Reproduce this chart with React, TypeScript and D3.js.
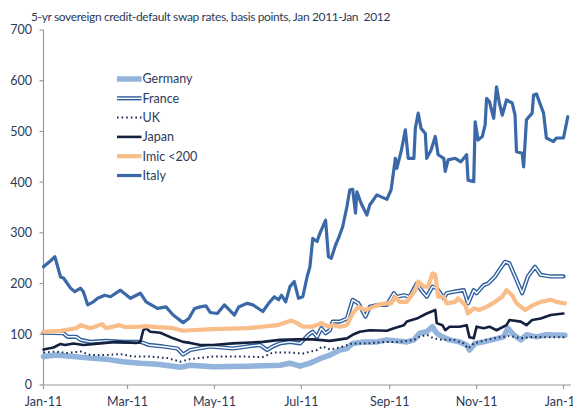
import React from "react";
import * as d3 from "d3";

// Days since 1 Jan 2011, value in basis points
const germany: [number, number][] = [
  [0, 56], [9, 59], [21, 56], [33, 53], [44, 51], [56, 46], [68, 43], [80, 41], [91, 37], [96, 35],
  [103, 39], [119, 36], [143, 37], [166, 39], [173, 43], [180, 37], [187, 43], [194, 52], [201, 59],
  [208, 69], [213, 72], [217, 82], [225, 85], [234, 85], [241, 89], [248, 87], [255, 85], [260, 89],
  [264, 102], [269, 105], [273, 115], [276, 102], [280, 95], [285, 89], [292, 85], [297, 79], [299, 69],
  [303, 82], [309, 85], [316, 90], [323, 95], [326, 112], [330, 99], [335, 89], [339, 99], [346, 95],
  [353, 99], [366, 98],
];
const france: [number, number][] = [
  [0, 103], [14, 102], [17, 95], [23, 95], [26, 89], [33, 85], [44, 87], [56, 85], [68, 85], [74, 79],
  [84, 76], [94, 72], [98, 60], [103, 69], [117, 76], [133, 72], [143, 76], [152, 79], [157, 69],
  [161, 76], [166, 82], [173, 85], [180, 82], [186, 99], [189, 105], [192, 95], [195, 112], [198, 102],
  [201, 108], [203, 125], [208, 125], [213, 131], [217, 168], [221, 161], [226, 135], [229, 154],
  [235, 158], [241, 158], [246, 181], [248, 174], [253, 177], [257, 174], [262, 200], [266, 184],
  [269, 174], [273, 194], [276, 191], [281, 171], [283, 181], [288, 184], [295, 187], [298, 161],
  [302, 187], [304, 181], [309, 197], [312, 200], [317, 214], [320, 227], [324, 243], [327, 240],
  [331, 214], [336, 181], [340, 214], [345, 233], [349, 217], [356, 214], [365, 214],
];
const uk: [number, number][] = [
  [0, 64], [9, 66], [16, 63], [26, 66], [33, 59], [44, 59], [54, 61], [63, 56], [75, 56], [87, 53],
  [96, 46], [103, 51], [108, 53], [119, 56], [143, 56], [154, 55], [161, 64], [173, 64], [182, 62],
  [192, 69], [196, 76], [201, 70], [208, 74], [217, 82], [227, 82], [241, 85], [250, 85], [260, 89],
  [264, 95], [269, 99], [274, 92], [280, 89], [288, 89], [295, 82], [298, 72], [302, 82], [311, 89],
  [320, 94], [327, 97], [335, 92], [344, 95], [353, 94], [366, 94],
];
const japan: [number, number][] = [
  [0, 70], [7, 74], [12, 81], [15, 79], [21, 82], [28, 79], [40, 82], [51, 85], [65, 83], [68, 85],
  [70, 108], [72, 112], [75, 105], [82, 103], [91, 92], [98, 85], [103, 83], [110, 79], [119, 79],
  [133, 82], [154, 85], [166, 89], [178, 90], [189, 90], [201, 87], [213, 92], [217, 99], [222, 105],
  [229, 108], [241, 107], [246, 112], [253, 118], [255, 125], [262, 131], [269, 141], [275, 148],
  [276, 122], [280, 118], [282, 108], [285, 115], [292, 115], [297, 118], [299, 94], [302, 92],
  [304, 115], [309, 112], [313, 115], [318, 108], [325, 118], [327, 128], [335, 125], [339, 118],
  [343, 128], [349, 131], [356, 138], [365, 141],
];
const imic: [number, number][] = [
  [0, 105], [12, 107], [23, 112], [26, 118], [33, 112], [41, 120], [44, 112], [53, 118], [58, 114],
  [68, 115], [72, 116], [80, 114], [91, 112], [98, 107], [103, 108], [119, 110], [143, 112], [164, 118],
  [174, 127], [178, 122], [182, 115], [189, 115], [195, 122], [200, 115], [203, 118], [208, 115],
  [213, 118], [217, 141], [221, 154], [225, 148], [229, 151], [235, 158], [240, 161], [244, 161],
  [247, 174], [250, 164], [255, 164], [261, 187], [263, 204], [267, 194], [270, 194], [273, 220],
  [275, 217], [277, 174], [281, 174], [283, 161], [289, 164], [291, 171], [296, 158], [298, 141],
  [302, 151], [306, 148], [311, 154], [317, 164], [322, 174], [325, 187], [329, 177], [332, 161],
  [338, 148], [344, 158], [349, 164], [356, 168], [360, 164], [366, 161],
];
const italy: [number, number][] = [
  [0, 233], [5, 245], [8, 253], [12, 213], [14, 211], [19, 191], [22, 184], [26, 191], [28, 184],
  [31, 158], [35, 164], [38, 171], [43, 177], [47, 174], [54, 187], [61, 171], [68, 181], [72, 164],
  [80, 151], [86, 154], [91, 138], [98, 123], [102, 131], [106, 151], [110, 154], [114, 156],
  [117, 143], [122, 141], [127, 158], [134, 138], [137, 154], [143, 161], [147, 158], [154, 145],
  [158, 161], [162, 174], [165, 168], [167, 177], [170, 164], [173, 194], [176, 204], [179, 171],
  [182, 174], [185, 213], [187, 233], [189, 289], [192, 283], [194, 299], [198, 325], [200, 253],
  [202, 250], [205, 276], [207, 289], [210, 312], [213, 352], [215, 385], [217, 386], [219, 339],
  [220, 381], [223, 358], [227, 335], [229, 355], [234, 375], [237, 371], [241, 366], [244, 385],
  [247, 447], [248, 427], [251, 460], [254, 503], [256, 447], [260, 447], [261, 506], [263, 536],
  [265, 506], [268, 496], [269, 447], [272, 463], [275, 490], [277, 454], [281, 447], [282, 421],
  [284, 444], [289, 447], [293, 440], [297, 454], [298, 404], [302, 401], [303, 519], [305, 483],
  [308, 490], [310, 513], [311, 565], [313, 559], [316, 526], [318, 588], [320, 556], [322, 532],
  [325, 562], [329, 556], [331, 532], [332, 460], [336, 457], [337, 430], [339, 523], [343, 536],
  [344, 572], [346, 574], [351, 536], [353, 487], [358, 480], [360, 487], [365, 487], [368, 529],
];

const seriesNames = ["Germany", "France", "UK", "Japan", "Imic <200", "Italy"];
const yTicks = [0, 100, 200, 300, 400, 500, 600, 700];
const title = "5-yr sovereign credit-default swap rates, basis points, Jan 2011-Jan  2012";

const W = 573;
const H = 408;
const FONT = "Lato, 'Open Sans', sans-serif";
const TEXT = "#2c3a5a";
const AXIS = "#9a9a9a";

const start = new Date(2011, 0, 1);
const end = new Date(2012, 0, 1);

export default function App() {
  const x = d3.scaleTime().domain([start, end]).range([43.5, 563.5]);
  const y = d3.scaleLinear().domain([0, 700]).range([385, 30]);
  const line = d3
    .line<[number, number]>()
    .x((d) => x(d3.timeDay.offset(start, d[0])))
    .y((d) => y(d[1]))
    .curve(d3.curveLinear);

  const xTicks = d3.timeMonth.every(2)!.range(start, d3.timeDay.offset(end, 1));
  const fmt = d3.timeFormat("%b-%y");

  const styles = [
    { data: germany, stroke: "#92b3dc", width: 5.5, dash: undefined as string | undefined },
    { data: france, stroke: "#2f5f9f", width: 4.2, dash: undefined },
    { data: uk, stroke: "#1d2c52", width: 2, dash: "1.6,3" },
    { data: japan, stroke: "#13213f", width: 2.6, dash: undefined },
    { data: imic, stroke: "#f8bd88", width: 4.2, dash: undefined },
    { data: italy, stroke: "#3b69a8", width: 3.2, dash: undefined },
  ];

  const legendY = d3.scalePoint<string>().domain(seriesNames).range([79, 175.5]);

  return (
    <svg
      width={W}
      height={H}
      style={{ position: "absolute", left: 0, top: 0, background: "#fff" }}
      fontFamily={FONT}
    >
      <text
        x={31}
        y={21}
        fontSize={12}
        fill={TEXT}
        letterSpacing={-0.36}
        style={{ whiteSpace: "pre" }}
      >
        {title}
      </text>

      {/* axes */}
      <line x1={43.5} x2={43.5} y1={30} y2={385} stroke={AXIS} strokeWidth={1.2} />
      <line x1={43.5} x2={571} y1={385} y2={385} stroke={AXIS} strokeWidth={1.2} />
      {yTicks.map((t) => (
        <g key={t}>
          <line x1={39.5} x2={43.5} y1={y(t)} y2={y(t)} stroke={AXIS} strokeWidth={1.2} />
          <text x={32} y={y(t)} dy="0.35em" textAnchor="end" fontSize={12.5} fill={TEXT}>
            {t}
          </text>
        </g>
      ))}
      {xTicks.map((t) => (
        <g key={+t}>
          <line x1={x(t)} x2={x(t)} y1={385} y2={389} stroke={AXIS} strokeWidth={1.2} />
          <text x={x(t)} y={406} textAnchor="middle" fontSize={12.5} fill={TEXT}>
            {fmt(t)}
          </text>
        </g>
      ))}

      {/* series */}
      {styles.map((s, i) => (
        <g key={i}>
          <path
            d={line(s.data) || ""}
            fill="none"
            stroke={s.stroke}
            strokeWidth={s.width}
            strokeDasharray={s.dash}
            strokeLinejoin="round"
            strokeLinecap={s.dash ? "butt" : "round"}
          />
          {i === 1 && (
            <path
              d={line(s.data) || ""}
              fill="none"
              stroke="#fff"
              strokeWidth={1.4}
              strokeLinejoin="round"
            />
          )}
        </g>
      ))}

      {/* legend */}
      {styles.map((s, i) => {
        const ly = legendY(seriesNames[i])!;
        return (
          <g key={"lg" + i}>
            <line
              x1={117}
              x2={141.5}
              y1={ly}
              y2={ly}
              stroke={s.stroke}
              strokeWidth={s.width}
              strokeDasharray={s.dash}
            />
            {i === 1 && <line x1={117} x2={141.5} y1={ly} y2={ly} stroke="#fff" strokeWidth={1.4} />}
            <text x={142.5} y={ly} dy="0.35em" fontSize={12.5} fill={TEXT}>
              {seriesNames[i]}
            </text>
          </g>
        );
      })}
    </svg>
  );
}
